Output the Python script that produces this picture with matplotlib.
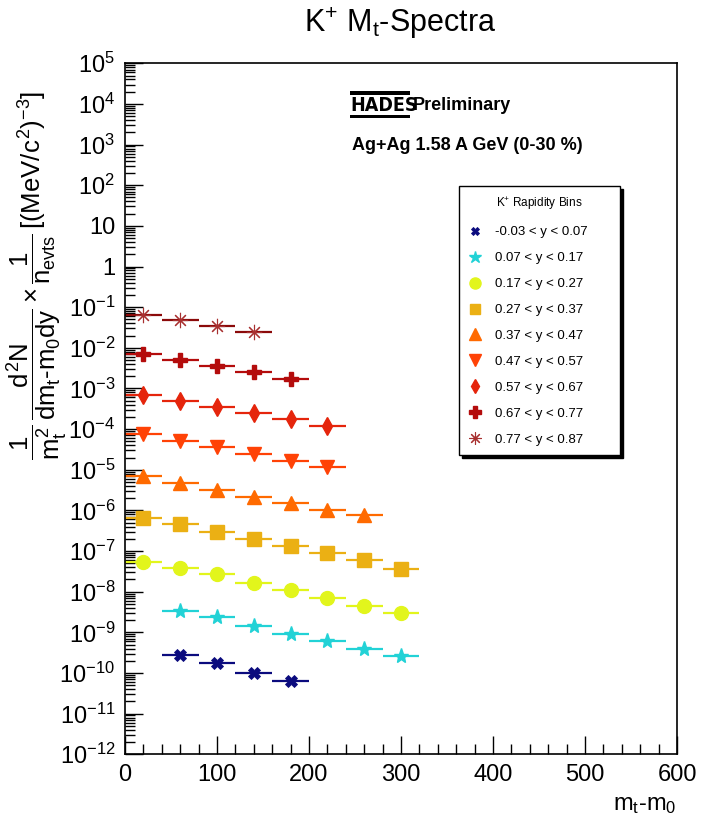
import math

import matplotlib

matplotlib.use("Agg")
import matplotlib.pyplot as plt
from matplotlib.lines import Line2D
from matplotlib.patches import Rectangle
from matplotlib.ticker import FixedLocator, FuncFormatter, LogLocator, MultipleLocator, NullFormatter

plt.rcParams["font.family"] = ["Liberation Sans", "DejaVu Sans"]
plt.rcParams["mathtext.fontset"] = "custom"
plt.rcParams["mathtext.rm"] = "Liberation Sans"
plt.rcParams["mathtext.it"] = "Liberation Sans"
plt.rcParams["mathtext.bf"] = "Liberation Sans:bold"

# rapidity bins (K+ mt spectra, Ag+Ag 1.58 A GeV, 0-30 %)
bin_labels = ["-0.03 < y < 0.07", "0.07 < y < 0.17", "0.17 < y < 0.27",
              "0.27 < y < 0.37", "0.37 < y < 0.47", "0.47 < y < 0.57",
              "0.57 < y < 0.67", "0.67 < y < 0.77", "0.77 < y < 0.87"]

mt_b0 = [60, 100, 140, 180]
yield_b0 = [2.78e-10, 1.74e-10, 9.9e-11, 6.4e-11]
mt_b1 = [60, 100, 140, 180, 220, 260, 300]
yield_b1 = [3.42e-9, 2.36e-9, 1.46e-9, 9.1e-10, 6.04e-10, 3.97e-10, 2.62e-10]
mt_b2 = [20, 60, 100, 140, 180, 220, 260, 300]
yield_b2 = [5.48e-8, 3.84e-8, 2.69e-8, 1.67e-8, 1.10e-8, 6.9e-9, 4.47e-9, 3.0e-9]
mt_b3 = [20, 60, 100, 140, 180, 220, 260, 300]
yield_b3 = [6.64e-7, 4.56e-7, 3.0e-7, 1.99e-7, 1.33e-7, 8.97e-8, 5.94e-8, 3.63e-8]
mt_b4 = [20, 60, 100, 140, 180, 220, 260]
yield_b4 = [7.16e-6, 4.82e-6, 3.19e-6, 2.18e-6, 1.50e-6, 1.03e-6, 7.7e-7]
mt_b5 = [20, 60, 100, 140, 180, 220]
yield_b5 = [7.6e-5, 5.2e-5, 3.58e-5, 2.45e-5, 1.67e-5, 1.15e-5]
mt_b6 = [20, 60, 100, 140, 180, 220]
yield_b6 = [6.92e-4, 4.93e-4, 3.45e-4, 2.54e-4, 1.75e-4, 1.20e-4]
mt_b7 = [20, 60, 100, 140, 180]
yield_b7 = [6.94e-3, 5.02e-3, 3.57e-3, 2.55e-3, 1.74e-3]
mt_b8 = [20, 60, 100, 140]
yield_b8 = [6.43e-2, 4.84e-2, 3.51e-2, 2.49e-2]

bin_half_width = 20

# (x, y, marker, colour, size, edge width)
SERIES = [
    (mt_b0, yield_b0, "X", "#0b0b7e", 8, 0.6),
    (mt_b1, yield_b1, "*", "#22d2d6", 11, 1.0),
    (mt_b2, yield_b2, "o", "#e2f51c", 10, 1.0),
    (mt_b3, yield_b3, "s", "#ebb014", 9.5, 1.0),
    (mt_b4, yield_b4, "^", "#ff6a00", 10, 1.0),
    (mt_b5, yield_b5, "v", "#ff4206", 10, 1.0),
    (mt_b6, yield_b6, "d", "#e5250c", 9, 1.0),
    (mt_b7, yield_b7, "P", "#b40c0c", 10, 1.0),
    (mt_b8, yield_b8, (8, 2, 0), "#a83030", 11, 0.8),
]

fig = plt.figure(figsize=(7.05, 8.23), dpi=100)
ax = fig.add_axes([0.1773, 0.0835, 0.783, 0.8396])

handles = []
for (xs, ys, mk, col, ms, mew), lab in zip(SERIES, bin_labels):
    ecol = "#8b0a0a" if mk == (8, 2, 0) else col
    ax.errorbar(xs, ys, xerr=bin_half_width, fmt="none", ecolor=ecol,
                elinewidth=1.6, capsize=0, zorder=2)
    ax.plot(xs, ys, linestyle="none", marker=mk, color=col, ms=ms,
            markeredgewidth=mew, zorder=3)
    handles.append(Line2D([0], [0], linestyle="none", marker=mk, color=col,
                          ms=ms * 0.8, markeredgewidth=mew, label=lab))

ax.set_yscale("log")
ax.set_xlim(0, 600)
ax.set_ylim(1e-12, 1e5)


def _fmt(v, pos):
    e = int(round(math.log10(v)))
    if e == 0:
        return "1"
    if e == 1:
        return "10"
    return r"$10^{%d}$" % e


ax.yaxis.set_major_locator(FixedLocator([10.0 ** e for e in range(-12, 6)]))
ax.yaxis.set_major_formatter(FuncFormatter(_fmt))
ax.yaxis.set_minor_locator(LogLocator(base=10, subs=range(2, 10), numticks=40))
ax.yaxis.set_minor_formatter(NullFormatter())
ax.xaxis.set_major_locator(MultipleLocator(100))
ax.xaxis.set_minor_locator(MultipleLocator(20))
ax.tick_params(which="both", direction="in", top=False, right=False, width=1.0)
ax.tick_params(which="major", length=13, labelsize=17, pad=7)
ax.tick_params(which="minor", length=7)
for s in ax.spines.values():
    s.set_linewidth(1.2)

fig.text(0.567, 0.972, r"K$^{+}$ M$_{t}$-Spectra", ha="center", va="center", fontsize=22)
fig.text(0.96, 0.022, r"m$_{t}$-m$_{0}$", ha="right", va="center", fontsize=17)
fig.text(0.052, 0.666,
         r"$\dfrac{1}{m_{t}^{2}}\,\dfrac{d^{2}N}{dm_{t}\text{-}m_{0}dy}\times\dfrac{1}{n_{evts}}\,[(MeV/c^{2})^{-3}]$",
         rotation=90, ha="center", va="center", fontsize=18.5)

# HADES logo + labels
fig.text(0.497, 0.872, "HADES", ha="left", va="center", fontsize=14,
         fontweight="bold", fontstretch="condensed", family=["DejaVu Sans"])
fig.patches.append(Rectangle((0.497, 0.885), 0.085, 0.0045, transform=fig.transFigure,
                             facecolor="black", edgecolor="none"))
fig.patches.append(Rectangle((0.497, 0.857), 0.085, 0.003, transform=fig.transFigure,
                             facecolor="black", edgecolor="none"))
fig.text(0.585, 0.872, "Preliminary", ha="left", va="center", fontsize=13, fontweight="bold")
fig.text(0.499, 0.823, "Ag+Ag 1.58 A GeV (0-30 %)", ha="left", va="center",
         fontsize=13, fontweight="bold")

leg = ax.legend(handles=handles, title=r"K$^{+}$ Rapidity Bins", loc="upper left",
                bbox_to_anchor=(0.605, 0.431, 0.292, 0.391), mode="expand",
                fontsize=9.5, title_fontsize=8.5,
                frameon=True, fancybox=False, edgecolor="black",
                shadow={"color": "black", "alpha": 1.0, "ox": 2, "oy": -2},
                borderpad=0.7, labelspacing=1.04, handlelength=1.0,
                handletextpad=1.0, borderaxespad=0)
leg.get_frame().set_linewidth(1.0)

fig.savefig("out.png", dpi=100)
